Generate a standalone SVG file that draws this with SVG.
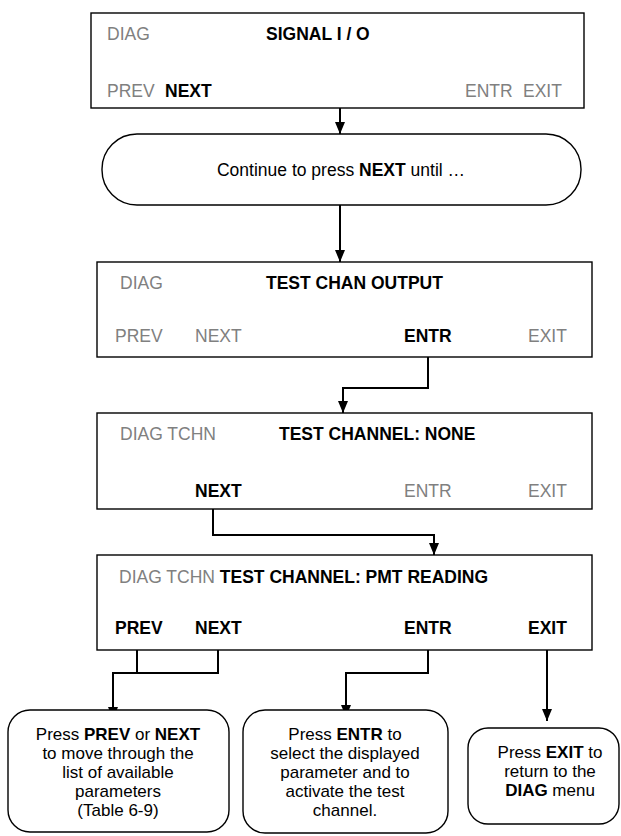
<svg xmlns="http://www.w3.org/2000/svg" width="621" height="836" viewBox="0 0 621 836">
<style>
text{font-family:"Liberation Sans",Arial,sans-serif;font-size:17.5px}
.n{font-size:17px}
.g{fill:#808080}
.b{font-weight:bold;fill:#000}
.box{fill:#fff;stroke:#000;stroke-width:1.4}
.c{fill:none;stroke:#000;stroke-width:2}
.m{text-anchor:middle}
</style>
<defs>
<marker id="ah" viewBox="0 0 12 10" refX="12" refY="5" markerWidth="12" markerHeight="10" markerUnits="userSpaceOnUse" orient="auto">
<path d="M0,0 L12,5 L0,10 Z" fill="#000"/>
</marker>
</defs>
<g id="connectors">
<path class="c" d="M340,108 V134" marker-end="url(#ah)"/>
<path class="c" d="M340,205 V262" marker-end="url(#ah)"/>
<path class="c" d="M428,338 V388 H343 V413" marker-end="url(#ah)"/>
<path class="c" d="M213,500 V535 H434 V555" marker-end="url(#ah)"/>
<path class="c" d="M137,641 V673"/>
<path class="c" d="M218,641 V673 H113 V719" marker-end="url(#ah)"/>
<path class="c" d="M428,641 V673 H346 V717" marker-end="url(#ah)"/>
<path class="c" d="M547,641 V721" marker-end="url(#ah)"/>
</g>
<g id="box-signal-io">
<rect class="box" x="91" y="13" width="493" height="95"/>
<text x="107" y="40" class="g">DIAG</text>
<text x="266" y="40" class="b">SIGNAL I / O</text>
<text x="107" y="97" class="g">PREV</text>
<text x="165" y="97" class="b">NEXT</text>
<text x="465" y="97" class="g">ENTR</text>
<text x="523" y="97" class="g">EXIT</text>
</g>
<g id="continue">
<rect class="box" x="102" y="134" width="479" height="71" rx="35" ry="35"/>
<text x="341" y="176" class="m">Continue to press <tspan class="b">NEXT</tspan> until …</text>
</g>
<g id="box-test-chan-output">
<rect class="box" x="97" y="262" width="495" height="95"/>
<text x="120" y="289" class="g">DIAG</text>
<text x="266" y="289" class="b">TEST CHAN OUTPUT</text>
<text x="115" y="342" class="g">PREV</text>
<text x="195" y="342" class="g">NEXT</text>
<text x="404" y="342" class="b">ENTR</text>
<text x="528" y="342" class="g">EXIT</text>
</g>
<g id="box-test-channel-none">
<rect class="box" x="97" y="413" width="495" height="96"/>
<text x="120" y="440" class="g">DIAG TCHN</text>
<text x="279" y="440" class="b">TEST CHANNEL: NONE</text>
<text x="195" y="497" class="b">NEXT</text>
<text x="404" y="497" class="g">ENTR</text>
<text x="528" y="497" class="g">EXIT</text>
</g>
<g id="box-test-channel-pmt">
<rect class="box" x="97" y="555" width="495" height="95"/>
<text x="119" y="583" class="g">DIAG TCHN <tspan class="b">TEST CHANNEL: PMT READING</tspan></text>
<text x="115" y="634" class="b">PREV</text>
<text x="195" y="634" class="b">NEXT</text>
<text x="404" y="634" class="b">ENTR</text>
<text x="528" y="634" class="b">EXIT</text>
</g>
<g id="note-prev-next">
<rect class="box" x="8" y="710" width="221" height="122" rx="22" ry="22"/>
<text class="m n" x="118" y="740">Press <tspan class="b">PREV</tspan> or <tspan class="b">NEXT</tspan></text>
<text class="m n" x="118" y="759">to move through the</text>
<text class="m n" x="118" y="778">list of available</text>
<text class="m n" x="118" y="797">parameters</text>
<text class="m n" x="118" y="816">(Table 6-9)</text>
</g>
<g id="note-entr">
<rect class="box" x="243" y="710" width="205" height="123" rx="22" ry="22"/>
<text class="m n" x="345" y="740">Press <tspan class="b">ENTR</tspan> to</text>
<text class="m n" x="345" y="759">select the displayed</text>
<text class="m n" x="345" y="778">parameter and to</text>
<text class="m n" x="345" y="797">activate the test</text>
<text class="m n" x="345" y="816">channel.</text>
</g>
<g id="note-exit">
<rect class="box" x="468" y="728" width="151" height="96" rx="20" ry="20"/>
<text class="m n" x="550" y="758">Press <tspan class="b">EXIT</tspan> to</text>
<text class="m n" x="550" y="777">return to the</text>
<text class="m n" x="550" y="796"><tspan class="b">DIAG</tspan> menu</text>
</g>
</svg>
